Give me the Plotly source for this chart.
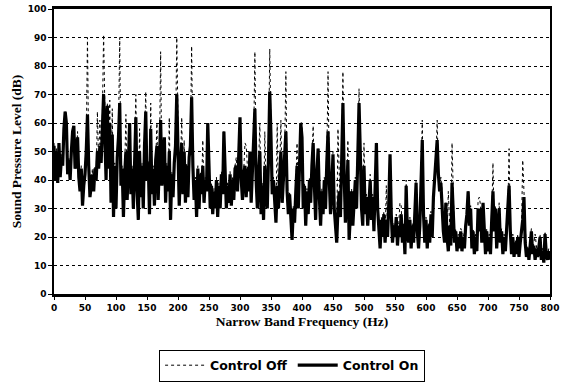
import plotly.graph_objects as go

# Narrow band frequency bins (Hz), 2 Hz resolution
freq_step = 2
freq_hz = [i * freq_step for i in range(401)]

# Sound pressure level (dB), Control Off
control_off_db = [
    53, 41, 51, 40, 52, 42, 49, 46, 57, 64,
    60, 43, 48, 41, 51, 56, 59, 45, 47, 57,
    42, 37, 45, 32, 39, 43, 52, 90, 47, 35,
    39, 44, 37, 45, 41, 64, 45, 61, 47, 62,
    91, 56, 41, 67, 45, 68, 33, 65, 28, 46,
    31, 49, 56, 90, 39, 45, 28, 44, 63, 34,
    47, 60, 36, 45, 31, 54, 70, 37, 27, 58,
    35, 46, 31, 54, 71, 41, 47, 29, 67, 36,
    45, 32, 48, 60, 34, 47, 85, 39, 45, 55,
    33, 46, 37, 62, 27, 43, 35, 47, 53, 90,
    49, 32, 45, 62, 36, 54, 33, 46, 35, 49,
    53, 87, 46, 34, 41, 28, 45, 31, 43, 36,
    54, 33, 41, 37, 60, 45, 31, 39, 29, 37,
    31, 41, 28, 39, 31, 43, 36, 57, 41, 31,
    39, 33, 43, 32, 41, 34, 45, 48, 37, 49,
    62, 41, 34, 43, 53, 52, 45, 37, 50, 33,
    45, 53, 85, 41, 31, 43, 60, 29, 39, 27,
    57, 37, 31, 49, 86, 56, 36, 41, 31, 26,
    60, 31, 43, 61, 33, 41, 49, 78, 37, 29,
    36, 25, 20, 31, 26, 37, 53, 31, 43, 60,
    60, 31, 39, 25, 37, 29, 41, 33, 46, 59,
    39, 27, 43, 51, 35, 25, 37, 29, 41, 31,
    47, 78, 41, 29, 39, 50, 31, 25, 19, 58,
    37, 28, 49, 78, 43, 26, 35, 54, 20, 29,
    37, 25, 33, 41, 31, 46, 72, 51, 31, 25,
    53, 29, 35, 25, 33, 42, 27, 35, 23, 37,
    53, 31, 23, 17, 27, 21, 29, 19, 38, 21,
    33, 49, 29, 19, 25, 21, 28, 18, 25, 32,
    31, 19, 25, 15, 40, 23, 19, 27, 17, 25,
    19, 27, 40, 23, 17, 25, 41, 61, 29, 19,
    27, 17, 25, 19, 29, 21, 35, 41, 46, 61,
    43, 37, 41, 36, 23, 19, 32, 21, 36, 25,
    18, 53, 31, 19, 23, 16, 21, 17, 23, 22,
    21, 17, 25, 29, 36, 25, 31, 17, 23, 15,
    21, 16, 33, 34, 31, 19, 32, 21, 15, 23,
    16, 21, 15, 27, 46, 23, 31, 17, 23, 32,
    19, 23, 15, 21, 16, 23, 29, 51, 23, 15,
    21, 14, 19, 15, 21, 14, 19, 23, 47, 35,
    19, 14, 17, 13, 19, 23, 15, 18, 21, 17,
    14, 18, 21, 13, 16, 12, 22, 15, 13, 16,
    13,
]

# Sound pressure level (dB), Control On
control_on_db = [
    52, 40, 50, 39, 53, 41, 48, 45, 58, 64,
    60, 42, 47, 40, 50, 57, 59, 44, 46, 55,
    41, 36, 44, 31, 38, 42, 50, 63, 45, 34,
    38, 42, 36, 44, 40, 50, 44, 52, 46, 60,
    70, 55, 40, 66, 44, 60, 32, 56, 27, 45,
    30, 48, 55, 67, 38, 44, 27, 42, 50, 33,
    46, 60, 35, 44, 30, 52, 62, 36, 26, 50,
    34, 45, 30, 52, 64, 40, 46, 28, 58, 35,
    44, 31, 47, 52, 33, 46, 61, 38, 44, 55,
    32, 45, 36, 50, 26, 42, 34, 46, 52, 70,
    48, 31, 44, 53, 35, 50, 32, 45, 34, 48,
    52, 69, 45, 33, 40, 27, 44, 30, 42, 35,
    45, 32, 40, 36, 60, 44, 30, 38, 28, 36,
    30, 40, 27, 38, 30, 42, 35, 57, 40, 30,
    38, 32, 42, 31, 40, 33, 44, 45, 36, 48,
    62, 40, 33, 42, 45, 34, 44, 36, 50, 32,
    44, 52, 65, 40, 30, 42, 50, 28, 38, 26,
    45, 36, 30, 48, 71, 55, 35, 40, 30, 25,
    38, 30, 42, 50, 32, 40, 48, 57, 36, 28,
    35, 24, 19, 30, 25, 36, 45, 30, 42, 60,
    55, 30, 38, 24, 36, 28, 40, 32, 45, 53,
    38, 26, 42, 51, 34, 24, 36, 28, 40, 30,
    46, 57, 40, 28, 38, 49, 30, 24, 18, 30,
    36, 27, 48, 67, 42, 25, 34, 47, 19, 28,
    36, 24, 32, 40, 30, 45, 67, 50, 30, 24,
    45, 28, 34, 24, 32, 40, 26, 34, 22, 36,
    53, 30, 22, 16, 26, 20, 28, 18, 26, 20,
    32, 49, 28, 18, 24, 20, 27, 17, 24, 20,
    28, 18, 24, 14, 38, 22, 18, 26, 16, 24,
    18, 26, 39, 22, 16, 24, 40, 54, 28, 18,
    26, 16, 24, 18, 28, 20, 34, 40, 45, 54,
    42, 36, 39, 30, 22, 18, 32, 20, 15, 24,
    17, 39, 30, 18, 22, 15, 20, 16, 22, 15,
    20, 16, 24, 28, 36, 24, 30, 16, 22, 14,
    20, 15, 30, 22, 30, 18, 32, 20, 14, 22,
    15, 20, 14, 26, 36, 22, 30, 16, 22, 30,
    18, 22, 14, 20, 15, 22, 28, 38, 22, 14,
    20, 13, 18, 14, 20, 13, 18, 22, 26, 34,
    18, 13, 16, 12, 18, 22, 14, 17, 12, 16,
    13, 17, 20, 12, 15, 11, 21, 14, 12, 15,
    12,
]

x_ticks = list(range(0, 801, 50))
y_ticks = list(range(0, 101, 10))

fig = go.Figure()
fig.add_trace(go.Scatter(
    x=freq_hz, y=control_off_db, mode="lines", name="Control Off",
    line=dict(color="black", width=1, dash="dot"),
))
fig.add_trace(go.Scatter(
    x=freq_hz, y=control_on_db, mode="lines", name="Control On",
    line=dict(color="black", width=3.2),
))

tick_font = dict(family="DejaVu Sans", size=9, color="black", weight="bold")
title_font = dict(family="Liberation Serif", size=13.5, color="black", weight="bold")

fig.update_layout(
    width=561, height=387,
    margin=dict(l=54, r=11, t=9, b=93, autoexpand=False),
    paper_bgcolor="white", plot_bgcolor="white",
    showlegend=True,
    legend=dict(
        orientation="h", x=0.48, xanchor="center", y=-0.195, yanchor="top",
        bordercolor="black", borderwidth=1, bgcolor="white",
        font=dict(family="DejaVu Sans", size=12.5, color="black", weight="bold"),
        itemwidth=40,
    ),
    xaxis=dict(
        range=[0, 800], tickvals=x_ticks, ticktext=[str(v) for v in x_ticks],
        showgrid=False, zeroline=False, automargin=False,
        showline=True, linecolor="black", linewidth=2.5, mirror=True,
        ticks="outside", ticklen=3, tickcolor="black", tickwidth=1,
        tickfont=tick_font,
        title=dict(text="Narrow Band Frequency (Hz)", font=title_font, standoff=6),
    ),
    yaxis=dict(
        range=[0, 100], tickvals=y_ticks, ticktext=[str(v) for v in y_ticks],
        showgrid=True, gridcolor="black", gridwidth=1, griddash="dot",
        zeroline=False, automargin=False,
        showline=True, linecolor="black", linewidth=1.5, mirror=True,
        ticks="outside", ticklen=4, tickcolor="black", tickwidth=1,
        tickfont=tick_font,
        title=dict(text="Sound Pressure Level (dB)", font=title_font, standoff=3),
    ),
)

fig.write_html(
    "out.html",
    config={"displayModeBar": False},
    post_script="document.body.style.margin='0';",
)
